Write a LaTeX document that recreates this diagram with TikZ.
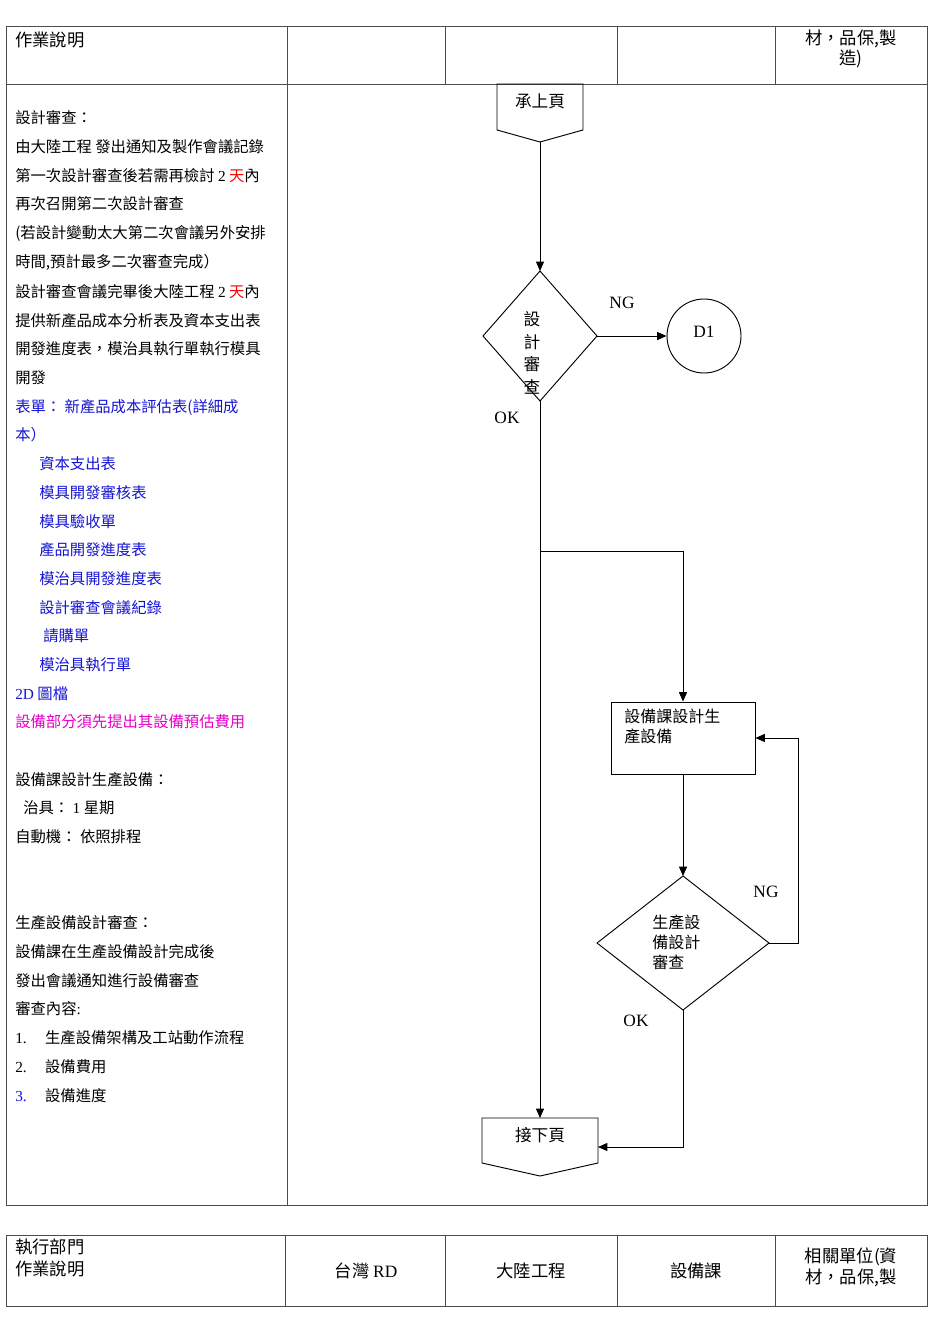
\documentclass[tikz,border=0pt]{standalone}
\usepackage{fontspec}
\setmainfont{Noto Sans CJK TC}
\newfontfamily\lt{Liberation Serif}
\usetikzlibrary{arrows.meta}
\definecolor{fblue}{RGB}{20,20,210}
\definecolor{fmag}{RGB}{230,0,200}
\tikzset{
  txt/.style={anchor=base west,inner sep=0pt,font=\fontsize{11.5}{14}\selectfont},
  grid/.style={draw=black!70,line width=0.6pt},
  shp/.style={draw,line width=0.7pt},
  con/.style={line width=0.7pt,-{Triangle[length=7pt,width=6pt]}},
  lbl/.style={inner sep=0pt,font=\lt\fontsize{13}{15}\selectfont},
}
\begin{document}
\begin{tikzpicture}[x=0.75pt,y=-0.75pt]
\useasboundingbox (0,0) rectangle (950,1344);
% top table
\draw[grid] (6,26) rectangle (927,1205);
\draw[grid] (6,84) -- (927,84);
\foreach \x in {287,445,617,775} \draw[grid] (\x,26) -- (\x,84);
\draw[grid] (287,84) -- (287,1205);
\node[txt,font=\fontsize{13}{15}\selectfont] (h1) at (15,47) {作業說明};
\node[txt,font=\fontsize{13}{15}\selectfont,anchor=north,align=center] (h5) at (851,30) {材，品保,製\\造)};
% bottom table
\draw[grid] (6,1235) rectangle (927,1306);
\foreach \x in {285,445,617,775} \draw[grid] (\x,1235) -- (\x,1306);
\node[txt,font=\fontsize{13}{16}\selectfont,anchor=north west,align=left] (b1) at (15,1239) {執行部門\\作業說明};
\node[font=\fontsize{13}{15}\selectfont] (b2) at (366,1271) {台灣 {\lt RD}};
\node[font=\fontsize{13}{15}\selectfont] (b3) at (531,1271) {大陸工程};
\node[font=\fontsize{13}{15}\selectfont] (b4) at (696,1271) {設備課};
\node[font=\fontsize{13}{16}\selectfont,anchor=north,align=center] (b5) at (851,1243) {相關單位(資\\材，品保,製};
% left text
\node[txt] (t1) at (15,124) {設計審查：};
\node[txt] (t2) at (15,153) {由大陸工程 發出通知及製作會議記錄};
\node[txt] (t3) at (15,182) {第一次設計審查後若需再檢討 {\lt 2} \textcolor{red}{天}內};
\node[txt] (t4) at (15,210) {再次召開第二次設計審查};
\node[txt] (t5) at (15,239) {({若設計變動太大第二次會議另外安排}};
\node[txt] (t6) at (15,268) {時間,預計最多二次審查完成）};
\node[txt] (t7) at (15,297) {設計審查會議完畢後大陸工程 {\lt 2} \textcolor{red}{天}內};
\node[txt] (t8) at (15,326) {提供新產品成本分析表及資本支出表};
\node[txt] (t9) at (15,354) {開發進度表，模治具執行單執行模具};
\node[txt] (t10) at (15,383) {開發};
\begin{scope}[every node/.append style={text=fblue}]
\node[txt] (t11) at (15,412) {表單： 新產品成本評估表(詳細成};
\node[txt] (t12) at (15,440) {本）};
\node[txt] (t13) at (39,469) {資本支出表};
\node[txt] (t14) at (39,498) {模具開發審核表};
\node[txt] (t15) at (39,527) {模具驗收單};
\node[txt] (t16) at (39,555) {產品開發進度表};
\node[txt] (t17) at (39,584) {模治具開發進度表};
\node[txt] (t18) at (39,613) {設計審查會議紀錄};
\node[txt] (t19) at (43,641) {請購單};
\node[txt] (t20) at (39,670) {模治具執行單};
\node[txt] (t21) at (15,699) {{\lt 2D} 圖檔};
\end{scope}
\node[txt,text=fmag] (t22) at (15,727) {設備部分須先提出其設備預估費用};
\node[txt] (t23) at (15,785) {設備課設計生產設備：};
\node[txt] (t24) at (23,813) {治具： {\lt 1} 星期};
\node[txt] (t25) at (15,842) {自動機： 依照排程};
\node[txt] (t26) at (15,928) {生產設備設計審查：};
\node[txt] (t27) at (15,957) {設備課在生產設備設計完成後};
\node[txt] (t28) at (15,986) {發出會議通知進行設備審查};
\node[txt] (t29) at (15,1014) {審查內容{\lt :}};
\node[txt] (t30) at (15,1043) {{\lt 1.}\hspace{1.2em}生產設備架構及工站動作流程};
\node[txt] (t31) at (15,1072) {{\lt 2.}\hspace{1.2em}設備費用};
\node[txt] (t32) at (15,1101) {\textcolor{fblue}{\lt 3.}\hspace{1.2em}設備進度};
% flow shapes
\draw[shp] (497,84) -- (583,84) -- (583,130) -- (540,142) -- (497,130) -- cycle;
\node[font=\fontsize{12.5}{15}\selectfont] (start) at (540,101) {承上頁};
\coordinate (startb) at (540,142);
\draw[shp] (540,271) -- (597,336) -- (540,401) -- (483,336) -- cycle;
\node[font=\fontsize{12.5}{17}\selectfont,align=center] (d1) at (532,353) {設\\計\\審\\查};
\coordinate (d1t) at (540,271); \coordinate (d1r) at (597,336); \coordinate (d1b) at (540,401);
\node[shp,circle,minimum size=55.5pt,inner sep=0pt,font=\lt\fontsize{13}{15}\selectfont] (D1) at (704,336) {\raisebox{6pt}{D1}};
\node[lbl] (ng1) at (622,303) {NG};
\node[lbl] (ok1) at (507,418) {OK};
\node[shp,rectangle,minimum width=108pt,minimum height=54pt,inner sep=0pt] (rect) at (683,738) {};
\node[anchor=north west,align=left,inner sep=0pt,font=\fontsize{12}{15}\selectfont] (rtxt) at (624,709) {設備課設計生\\產設備};
\draw[shp] (683,876) -- (769,943) -- (683,1010) -- (597,943) -- cycle;
\coordinate (d2t) at (683,876); \coordinate (d2r) at (769,943); \coordinate (d2b) at (683,1010);
\node[font=\fontsize{12}{15}\selectfont,align=left,anchor=north west,inner sep=0pt] (d2) at (652,915) {生產設\\備設計\\審查};
\node[lbl] (ng2) at (766,892) {NG};
\node[lbl] (ok2) at (636,1021) {OK};
\draw[shp] (482,1118) -- (598,1118) -- (598,1163) -- (540,1176) -- (482,1163) -- cycle;
\node[font=\fontsize{12.5}{15}\selectfont] (end) at (540,1135) {接下頁};
\coordinate (endt) at (540,1118); \coordinate (endr) at (598,1147);
% connectors
\draw[con] (startb) -- (d1t);
\draw[con] (d1r) -- (D1.west);
\draw[con] (d1b) -- (endt);
\draw[con] (540,551) -- (683,551) -- (rect.north);
\draw[con] (rect.south) -- (d2t);
\draw[con] (d2r) -- (798,943) -- (798,738) -- (rect.east);
\draw[con] (d2b) -- (683,1147) -- (endr);
\end{tikzpicture}
\end{document}
